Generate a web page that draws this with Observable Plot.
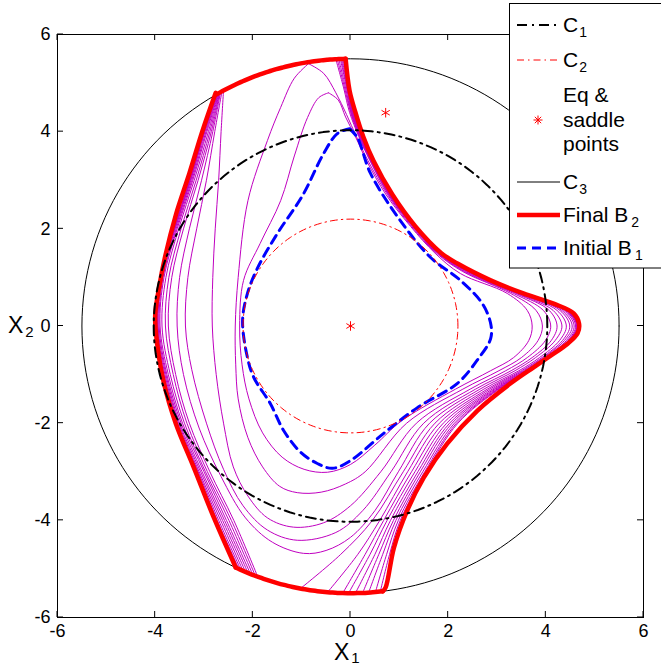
<!DOCTYPE html>
<html><head><meta charset="utf-8">
<script src="https://cdn.jsdelivr.net/npm/d3@7"></script>
<script src="https://cdn.jsdelivr.net/npm/@observablehq/plot@0.6"></script>
<style>body{margin:0;background:#fff}#chart{width:661px;height:665px;overflow:hidden}</style>
</head><body><div id="chart"></div>
<script>
const xTicks = [-6, -4, -2, 0, 2, 4, 6];
const yTicks = [-6, -4, -2, 0, 2, 4, 6];
const rC1 = 4.03, rC2 = 2.2, rC3 = 5.5;
const eqPoints = [[0, 0], [0.72, 4.39]];

const initialB1 = [[-0.02,4.06],[0.14,3.88],[0.41,3.14],[1.02,2.17],[1.64,1.41],[2.25,0.94],[2.70,0.46],[2.87,0.05],[2.87,-0.26],[2.62,-0.67],[2.19,-1.18],[1.37,-1.68],[0.68,-2.21],[0.0,-2.77],[-0.37,-2.93],[-0.68,-2.83],[-1.02,-2.60],[-1.37,-2.15],[-1.64,-1.60],[-1.98,-1.06],[-2.11,-0.65],[-2.21,0.11],[-2.11,0.67],[-1.9,1.2],[-1.5,1.9],[-0.98,2.69],[-0.55,3.55],[-0.27,3.96],[-0.02,4.06]];

const finalB2Right = [[-0.1,5.5],[-0.02,4.85],[0.1,4.4],[0.26,3.9],[0.47,3.4],[0.86,2.7],[1.33,2.05],[1.86,1.5],[2.2,1.28],[2.87,0.94],[3.54,0.67],[4.16,0.46],[4.57,0.26],[4.68,0.05],[4.65,-0.15],[4.44,-0.37],[4.10,-0.61],[3.75,-0.85],[3.28,-1.18],[2.6,-1.74],[1.98,-2.42],[1.5,-3.12],[1.16,-3.8],[0.89,-4.56],[0.72,-5.38],[0.66,-5.46]];
const finalB2Left = [[-2.35,-4.97],[-2.8,-3.94],[-3.21,-2.91],[-3.58,-2.0],[-3.82,-1.18],[-3.96,-0.36],[-4.0,0.2],[-3.92,0.79],[-3.8,1.41],[-3.57,2.31],[-3.3,3.14],[-3.03,4.02],[-2.76,4.80]];
const finalB2TopArc = [[-2.76,4.80],[-0.1,5.5]];
const finalB2BottomArc = [[0.66,-5.46],[-2.35,-4.97]];

// intermediate level curves (inner to outer)
const levelA = [[-0.45,4.80],[-0.25,4.65],[-0.1,4.3],[0.1,3.9],[0.33,3.4],[0.73,2.7],[1.23,2.05],[1.73,1.5],[2.25,1.08],[3.21,0.67],[3.62,0.32],[3.72,0],[3.65,-0.3],[3.34,-0.65],[2.87,-0.92],[2.15,-1.3],[1.05,-1.95],[0.5,-2.45],[0.0,-2.85],[-0.47,-3.01],[-0.95,-2.95],[-1.4,-2.7],[-1.8,-2.2],[-2.08,-1.5],[-2.22,-0.8],[-2.27,0],[-2.19,0.94],[-1.85,1.7],[-1.43,2.58],[-1.15,3.5],[-0.88,4.29],[-0.65,4.7],[-0.45,4.80]];
const levelB = [[-0.86,5.40],[-0.55,5.2],[-0.3,4.8],[-0.08,4.35],[0.12,3.9],[0.36,3.4],[0.76,2.7],[1.25,2.05],[1.76,1.5],[2.3,1.12],[3.28,0.67],[3.80,0.32],[3.93,0],[3.84,-0.3],[3.50,-0.65],[3.04,-0.92],[2.30,-1.3],[1.15,-2.0],[0.3,-3.0],[-0.1,-3.25],[-0.6,-3.42],[-1.09,-3.43],[-1.45,-3.3],[-1.8,-2.9],[-2.1,-2.3],[-2.3,-1.5],[-2.35,-0.8],[-2.36,0],[-2.3,1.0],[-2.1,2.58],[-1.7,3.82],[-1.43,4.5],[-1.15,5.1],[-0.86,5.40]];
const levelC = [[-0.3,5.49],[-0.14,4.9],[-0.02,4.4],[0.17,3.9],[0.40,3.4],[0.78,2.7],[1.27,2.05],[1.78,1.5],[2.33,1.12],[3.34,0.67],[3.95,0.32],[4.10,0],[3.99,-0.3],[3.62,-0.65],[3.18,-0.92],[2.45,-1.3],[1.35,-2.0],[0.62,-3.0],[0.0,-3.7],[-0.55,-4.05],[-1.17,-4.14],[-1.7,-3.95],[-2.1,-3.5],[-2.4,-2.9],[-2.6,-2.0],[-2.75,-1.0],[-2.83,0],[-2.82,1.0],[-2.77,2.0],[-2.7,3.0],[-2.65,4.0],[-2.6,4.85]];
const levelD = [[-0.27,5.49],[-0.12,4.9],[0.0,4.4],[0.18,3.9],[0.41,3.4],[0.79,2.7],[1.28,2.05],[1.79,1.5],[2.36,1.12],[3.39,0.67],[4.07,0.32],[4.23,0],[4.11,-0.3],[3.72,-0.65],[3.29,-0.92],[2.56,-1.3],[1.50,-2.0],[0.83,-3.0],[0.25,-3.8],[-0.3,-4.25],[-1.09,-4.41],[-1.7,-4.2],[-2.2,-3.7],[-2.6,-2.95],[-2.95,-2.0],[-3.25,-0.9],[-3.38,0],[-3.33,1.0],[-3.15,2.0],[-2.95,3.0],[-2.78,4.0],[-2.63,4.84]];
const levelE = [[-0.24,5.49],[-0.1,4.9],[0.01,4.4],[0.19,3.9],[0.42,3.4],[0.80,2.7],[1.28,2.05],[1.80,1.5],[2.39,1.12],[3.42,0.67],[4.15,0.32],[4.33,0],[4.19,-0.3],[3.79,-0.65],[3.37,-0.92],[2.65,-1.3],[1.62,-2.0],[0.98,-3.0],[0.5,-3.8],[0.0,-4.35],[-0.5,-4.62],[-0.96,-4.68],[-1.6,-4.45],[-2.15,-3.95],[-2.65,-3.1],[-3.1,-2.1],[-3.42,-1.0],[-3.55,0],[-3.5,1.0],[-3.3,2.0],[-3.05,3.0],[-2.82,4.0],[-2.66,4.82]];
const levelFRight = [[-0.21,5.5],[-0.08,4.9],[0.02,4.4],[0.20,3.9],[0.42,3.4],[0.80,2.7],[1.29,2.05],[1.81,1.5],[2.41,1.12],[3.45,0.67],[4.23,0.32],[4.42,0],[4.28,-0.3],[3.87,-0.65],[3.45,-0.92],[2.73,-1.3],[1.73,-2.0],[1.08,-3.0],[0.45,-4.0],[-0.2,-4.7],[-1.02,-5.40]];
const levelFLeft = [[-1.9,-5.16],[-2.39,-4.0],[-2.88,-3.0],[-3.3,-2.0],[-3.58,-1.0],[-3.73,0],[-3.66,1],[-3.42,2],[-3.12,3],[-2.85,4],[-2.68,4.79]];
const levelGRight = [[-0.19,5.5],[-0.07,4.9],[0.03,4.4],[0.20,3.9],[0.43,3.4],[0.81,2.7],[1.29,2.05],[1.81,1.5],[2.43,1.12],[3.48,0.67],[4.29,0.32],[4.49,0],[4.34,-0.3],[3.92,-0.65],[3.50,-0.92],[2.80,-1.3],[1.82,-2.0],[1.17,-3.0],[0.6,-4.0],[0.15,-4.7],[-0.47,-5.48]];
const levelGLeft = [[-1.95,-5.14],[-2.44,-4.0],[-2.93,-3.0],[-3.35,-2.0],[-3.63,-1.0],[-3.79,0],[-3.72,1],[-3.47,2],[-3.16,3],[-2.88,4],[-2.69,4.78]];
const levelHRight = [[-0.17,5.5],[-0.06,4.9],[0.04,4.4],[0.21,3.9],[0.43,3.4],[0.81,2.7],[1.29,2.05],[1.82,1.5],[2.44,1.12],[3.49,0.67],[4.33,0.32],[4.54,0],[4.38,-0.3],[3.95,-0.65],[3.54,-0.92],[2.85,-1.3],[1.90,-2.0],[1.25,-3.0],[0.68,-4.0],[0.3,-4.7],[-0.16,-5.5]];
const levelHLeft = [[-2.0,-5.12],[-2.49,-4.0],[-2.97,-3.0],[-3.4,-2.0],[-3.69,-1.0],[-3.86,0],[-3.78,1],[-3.52,2],[-3.2,3],[-2.91,4],[-2.7,4.78]];
const levelIRight = [[-0.15,5.5],[-0.05,4.9],[0.04,4.4],[0.21,3.9],[0.43,3.4],[0.82,2.7],[1.30,2.05],[1.82,1.5],[2.45,1.12],[3.51,0.67],[4.37,0.32],[4.58,0],[4.42,-0.3],[3.98,-0.65],[3.57,-0.92],[2.90,-1.3],[1.97,-2.0],[1.32,-3.0],[0.75,-4.0],[0.4,-4.7],[-0.04,-5.5]];
const levelILeft = [[-2.05,-5.1],[-2.54,-4.0],[-3.0,-3.0],[-3.44,-2.0],[-3.73,-1.0],[-3.9,0],[-3.82,1],[-3.55,2],[-3.23,3],[-2.94,4],[-2.71,4.77]];
const levelJRight = [[-0.14,5.5],[-0.04,4.9],[0.05,4.4],[0.22,3.9],[0.44,3.4],[0.82,2.7],[1.30,2.05],[1.82,1.5],[2.46,1.12],[3.52,0.67],[4.40,0.32],[4.61,0],[4.45,-0.3],[4.01,-0.65],[3.60,-0.92],[2.94,-1.3],[2.03,-2.0],[1.38,-3.0],[0.82,-4.0],[0.5,-4.7],[0.10,-5.5]];
const levelJLeft = [[-2.1,-5.08],[-2.58,-4.0],[-3.04,-3.0],[-3.47,-2.0],[-3.76,-1.0],[-3.92,0],[-3.84,1],[-3.57,2],[-3.25,3],[-2.96,4],[-2.72,4.77]];
const levelKRight = [[-0.13,5.5],[-0.03,4.9],[0.05,4.4],[0.22,3.9],[0.44,3.4],[0.82,2.7],[1.30,2.05],[1.83,1.5],[2.46,1.12],[3.53,0.67],[4.42,0.32],[4.63,0],[4.47,-0.3],[4.02,-0.65],[3.62,-0.92],[2.97,-1.3],[2.08,-2.0],[1.43,-3.0],[0.88,-4.0],[0.58,-4.7],[0.25,-5.49]];
const levelKLeft = [[-2.15,-5.06],[-2.62,-4.0],[-3.07,-3.0],[-3.5,-2.0],[-3.78,-1.0],[-3.94,0],[-3.86,1],[-3.59,2],[-3.27,3],[-2.98,4],[-2.73,4.76]];
const levelLRight = [[-0.12,5.5],[-0.03,4.9],[0.06,4.4],[0.22,3.9],[0.44,3.4],[0.83,2.7],[1.30,2.05],[1.83,1.5],[2.47,1.12],[3.53,0.67],[4.43,0.32],[4.64,0],[4.47,-0.3],[4.03,-0.65],[3.63,-0.92],[3.00,-1.3],[2.13,-2.0],[1.48,-3.0],[0.93,-4.0],[0.66,-4.7],[0.37,-5.49]];
const levelLLeft = [[-2.2,-5.04],[-2.66,-4.0],[-3.1,-3.0],[-3.52,-2.0],[-3.8,-1.0],[-3.95,0],[-3.87,1],[-3.6,2],[-3.28,3],[-2.99,4],[-2.74,4.76]];
const levelMRight = [[-0.11,5.5],[-0.02,4.9],[0.06,4.4],[0.23,3.9],[0.44,3.4],[0.83,2.7],[1.31,2.05],[1.83,1.5],[2.47,1.12],[3.53,0.67],[4.43,0.32],[4.65,0],[4.48,-0.3],[4.04,-0.65],[3.63,-0.92],[3.02,-1.3],[2.17,-2.0],[1.52,-3.0],[0.98,-4.0],[0.74,-4.7],[0.51,-5.48]];
const levelMLeft = [[-2.25,-5.01],[-2.7,-4.0],[-3.12,-3.0],[-3.54,-2.0],[-3.82,-1.0],[-3.97,0],[-3.88,1],[-3.61,2],[-3.29,3],[-3.0,4],[-2.75,4.75]];
const levelNRight = [[-0.1,5.5],[-0.02,4.9],[0.07,4.4],[0.23,3.9],[0.45,3.4],[0.83,2.7],[1.31,2.05],[1.84,1.5],[2.48,1.12],[3.54,0.67],[4.44,0.32],[4.66,0],[4.49,-0.3],[4.04,-0.65],[3.64,-0.92],[3.04,-1.3],[2.20,-2.0],[1.55,-3.0],[1.02,-4.0],[0.8,-4.7],[0.61,-5.47]];
const levelNLeft = [[-2.29,-4.99],[-2.73,-4.0],[-3.14,-3.0],[-3.56,-2.0],[-3.84,-1.0],[-3.98,0],[-3.89,1],[-3.62,2],[-3.3,3],[-3.01,4],[-2.76,4.75]];

const levelPaths = [levelA, levelB, levelC, levelD, levelE,
  levelFRight, levelFLeft, levelGRight, levelGLeft, levelHRight, levelHLeft,
  levelIRight, levelILeft, levelJRight, levelJLeft, levelKRight, levelKLeft,
  levelLRight, levelLLeft, levelMRight, levelMLeft, levelNRight, levelNLeft];

// geometry helpers
const circle = r => d3.range(0, 361, 2).map(a => [r * Math.cos(a * Math.PI / 180), r * Math.sin(a * Math.PI / 180)]);
const arcOn = (r, p0, p1, n = 30) => {
  const a0 = Math.atan2(p0[1], p0[0]), a1 = Math.atan2(p1[1], p1[0]);
  return d3.range(n + 1).map(i => { const a = a0 + (a1 - a0) * i / n; return [r * Math.cos(a), r * Math.sin(a)]; });
};

const levelRows = levelPaths.flatMap((p, i) => p.map(([x, y]) => ({x, y, id: i})));
const redSegs = [arcOn(rC3, ...finalB2TopArc), finalB2Right, arcOn(rC3, ...finalB2BottomArc), finalB2Left];
const redRows = redSegs.flatMap((p, i) => p.map(([x, y]) => ({x, y, id: i})));

const X = d => d[0], Y = d => d[1];
const font = "'Liberation Sans', Arial, Helvetica, sans-serif";

const plot = Plot.plot({
  width: 661, height: 665,
  marginLeft: 57, marginRight: 18, marginTop: 34, marginBottom: 48,
  style: {fontFamily: font, fontSize: "18px", color: "#000", background: "#fff"},
  x: {domain: [-6, 6], ticks: xTicks, tickSize: 0, tickPadding: 7, tickFormat: d => String(d), label: null},
  y: {domain: [-6, 6], ticks: yTicks, tickSize: 0, tickPadding: 7, tickFormat: d => String(d), label: null},
  marks: [
    Plot.line(circle(rC3), {x: X, y: Y, stroke: "#000", strokeWidth: 1}),
    Plot.line(levelRows, {x: "x", y: "y", z: "id", stroke: "#c000c0", strokeWidth: 1, curve: "catmull-rom"}),
    Plot.line(redRows, {x: "x", y: "y", z: "id", stroke: "#ff0000", strokeWidth: 4.5, curve: "catmull-rom", strokeLinejoin: "round", strokeLinecap: "round"}),
    Plot.line(initialB1, {x: X, y: Y, stroke: "#0000ff", strokeWidth: 3, strokeDasharray: "9,6", curve: "catmull-rom"}),
    Plot.line(circle(rC1), {x: X, y: Y, stroke: "#000", strokeWidth: 2, strokeDasharray: "10,5,2,5"}),
    Plot.line(circle(rC2), {x: X, y: Y, stroke: "#ff0000", strokeWidth: 1, strokeDasharray: "7,4,1.5,4"}),
    Plot.dot(eqPoints, {x: X, y: Y, symbol: "asterisk", r: 4.5, stroke: "#ff0000", strokeWidth: 1}),
    Plot.frame({stroke: "#000", strokeWidth: 1})
  ]
});
document.getElementById("chart").append(plot);

// inward tick marks on all four sides
const sx = plot.scale("x"), sy = plot.scale("y");
const svg = d3.select(plot);
const tg = svg.append("g").attr("stroke", "#000").attr("stroke-width", 1);
const x0 = sx.apply(-6), x1 = sx.apply(6), y0 = sy.apply(-6), y1 = sy.apply(6);
const tk = 6;
for (const t of xTicks) {
  const px = sx.apply(t);
  tg.append("line").attr("x1", px).attr("x2", px).attr("y1", y0).attr("y2", y0 - tk);
  tg.append("line").attr("x1", px).attr("x2", px).attr("y1", y1).attr("y2", y1 + tk);
}
for (const t of yTicks) {
  const py = sy.apply(t);
  tg.append("line").attr("y1", py).attr("y2", py).attr("x1", x0).attr("x2", x0 + tk);
  tg.append("line").attr("y1", py).attr("y2", py).attr("x1", x1).attr("x2", x1 - tk);
}

// axis labels with subscripts
function subText(g, x, y, main, sub, size, subSize, dx = 1, dy = 5) {
  const t = g.append("text").attr("x", x).attr("y", y).attr("font-family", font).attr("font-size", size).attr("fill", "#000").attr("text-anchor", "start");
  t.append("tspan").text(main);
  t.append("tspan").attr("font-size", subSize).attr("dx", dx).attr("dy", dy).text(sub);
  return t;
}
const ag = svg.append("g").attr("text-anchor", "start");
subText(ag, 334, 660, "X", "1", 23, 15, 2, 3);
subText(ag, 8, 333, "X", "2", 23, 15, 2, 4);

// legend
const lg = svg.append("g").attr("font-family", font).attr("text-anchor", "start");
lg.append("rect").attr("x", 509.5).attr("y", 3.5).attr("width", 170).attr("height", 264.5).attr("fill", "#fff").attr("stroke", "#000").attr("stroke-width", 1);
const lx0 = 517, lx1 = 560, tx = 563;
lg.append("line").attr("x1", lx0).attr("x2", lx1).attr("y1", 25).attr("y2", 25).attr("stroke", "#000").attr("stroke-width", 2).attr("stroke-dasharray", "10,5,2,5");
subText(lg, tx, 32, "C", "1", 21, 14, 1, 5);
lg.append("line").attr("x1", lx0).attr("x2", lx1).attr("y1", 60).attr("y2", 60).attr("stroke", "#f00").attr("stroke-width", 1).attr("stroke-dasharray", "7,4,1.5,4");
subText(lg, tx, 67, "C", "2", 21, 14, 1, 5);
const ast = lg.append("g").attr("stroke", "#f00").attr("stroke-width", 1);
for (const a of [0, 45, 90, 135]) {
  const r = 4.5, c = Math.cos(a * Math.PI / 180) * r, s = Math.sin(a * Math.PI / 180) * r;
  ast.append("line").attr("x1", 538 - c).attr("x2", 538 + c).attr("y1", 120 - s).attr("y2", 120 + s);
}
["Eq &", "saddle", "points"].forEach((s, i) => lg.append("text").attr("x", tx).attr("y", 102 + i * 24.5).attr("font-size", 21).attr("fill", "#000").attr("text-anchor", "start").text(s));
lg.append("line").attr("x1", lx0).attr("x2", lx1).attr("y1", 182).attr("y2", 182).attr("stroke", "#000").attr("stroke-width", 1);
subText(lg, tx, 189, "C", "3", 21, 14, 1, 5);
lg.append("line").attr("x1", lx0).attr("x2", lx1).attr("y1", 215).attr("y2", 215).attr("stroke", "#f00").attr("stroke-width", 4.5);
subText(lg, tx, 222, "Final B", "2", 21, 14, 3, 5);
lg.append("line").attr("x1", lx0).attr("x2", lx1).attr("y1", 248).attr("y2", 248).attr("stroke", "#00f").attr("stroke-width", 3).attr("stroke-dasharray", "9,6");
subText(lg, tx, 255, "Initial B", "1", 21, 14, 3, 5);
</script></body></html>
